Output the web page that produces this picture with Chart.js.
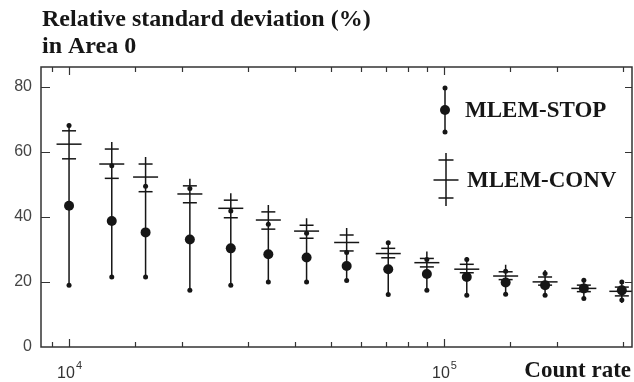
<!DOCTYPE html>
<html>
<head>
<meta charset="utf-8">
<script src="https://cdn.jsdelivr.net/npm/chart.js@4"></script>
<style>
html, body { margin: 0; padding: 0; background: #fff; overflow: hidden; }
#wrap { width: 634px; height: 382px; position: relative; }
canvas { display: block; }
</style>
</head>
<body>
<div id="wrap"><canvas id="myChart" width="634" height="382"></canvas></div>
<script>
// count rate (x) of each measurement
const countRate = [10000, 13000, 16000, 21000, 27000, 34000, 43000, 55000, 71000, 90000, 115000, 146000, 186000, 236000, 298000];
// MLEM-STOP : mean, min, max
const stopMean = [43.4, 38.7, 35.2, 33.0, 30.3, 28.5, 27.5, 24.9, 23.9, 22.4, 21.5, 19.8, 19.0, 18.0, 17.4];
const stopMin  = [19.0, 21.5, 21.5, 17.4, 19.0, 20.0, 20.0, 20.4, 16.1, 17.4, 15.9, 16.2, 15.9, 14.9, 14.4];
const stopMax  = [68.0, 55.7, 49.4, 48.7, 41.8, 37.7, 34.9, 29.0, 32.0, 26.9, 26.9, 23.3, 22.6, 20.5, 20.0];
// MLEM-CONV : mean, lower bar, upper bar
const convMean = [62.3, 56.2, 52.2, 47.0, 42.6, 39.0, 35.6, 32.1, 28.7, 25.9, 23.9, 21.8, 20.0, 18.0, 17.1];
const convLow  = [57.8, 51.8, 47.7, 44.3, 39.7, 36.2, 33.4, 29.5, 27.4, 24.6, 22.8, 20.7, 19.0, 17.0, 15.7];
const convHigh = [66.4, 60.8, 56.2, 49.5, 45.1, 41.5, 37.4, 34.4, 30.3, 27.2, 25.4, 23.1, 21.5, 19.0, 18.4];
const yTicks = [0, 20, 40, 60, 80];
const xDecades = [1e4, 1e5];

const INK = '#161616';
const SERIF = '"Liberation Serif", "Times New Roman", serif';
const SANS = '"Liberation Sans", Arial, sans-serif';

const pts = (ys) => countRate.map((x, i) => ({ x: x, y: ys[i] }));

// vertical whiskers, frame, inward ticks, texts
const decor = {
  id: 'decor',
  beforeDatasetsDraw(chart) {
    const { ctx, scales: { x, y } } = chart;
    ctx.save();
    ctx.strokeStyle = INK;
    ctx.lineWidth = 1.5;
    countRate.forEach((c, i) => {
      const px = x.getPixelForValue(c);
      ctx.beginPath();
      ctx.moveTo(px, y.getPixelForValue(stopMin[i]));
      ctx.lineTo(px, y.getPixelForValue(stopMax[i]));
      ctx.moveTo(px, y.getPixelForValue(convHigh[i]) - 7);
      ctx.lineTo(px, y.getPixelForValue(convLow[i]) + 7);
      ctx.stroke();
    });
    ctx.restore();
  },
  afterDraw(chart) {
    const { ctx, chartArea: a, scales: { x, y } } = chart;
    ctx.save();
    ctx.strokeStyle = '#333';
    ctx.lineWidth = 1.5;
    ctx.strokeRect(a.left, a.top, a.right - a.left, a.bottom - a.top);

    ctx.lineWidth = 1.2;
    ctx.beginPath();
    x.ticks.forEach(t => {
      const px = Math.round(x.getPixelForValue(t.value)) + 0.5;
      if (px < a.left + 2 || px > a.right - 2) return;
      const major = xDecades.includes(t.value);
      const len = major ? 8 : 5;
      ctx.moveTo(px, a.bottom); ctx.lineTo(px, a.bottom - len);
      ctx.moveTo(px, a.top); ctx.lineTo(px, a.top + len);
    });
    yTicks.forEach(v => {
      const py = Math.round(y.getPixelForValue(v)) + 0.5;
      if (v === 0) return;
      ctx.moveTo(a.left, py); ctx.lineTo(a.left + 9, py);
      ctx.moveTo(a.right, py); ctx.lineTo(a.right - 7, py);
    });
    ctx.stroke();

    // decade labels 10^n
    ctx.fillStyle = '#333';
    ctx.textBaseline = 'alphabetic';
    xDecades.forEach(v => {
      const px = x.getPixelForValue(v);
      ctx.font = '16px ' + SANS;
      const w1 = ctx.measureText('10').width;
      ctx.font = '11px ' + SANS;
      const exp = String(Math.round(Math.log10(v)));
      const w2 = ctx.measureText(exp).width;
      const sx = px - (w1 + w2) / 2;
      ctx.font = '16px ' + SANS;
      ctx.fillText('10', sx, 378);
      ctx.font = '11px ' + SANS;
      ctx.fillText(exp, sx + w1 + 1, 369);
    });

    // titles
    ctx.fillStyle = INK;
    ctx.font = 'bold 24px ' + SERIF;
    ctx.textAlign = 'left';
    ctx.fillText('Relative standard deviation (%)', 42, 26);
    ctx.fillText('in Area 0', 42, 53);
    ctx.font = 'bold 23px ' + SERIF;
    ctx.textAlign = 'right';
    ctx.fillText('Count rate', 631, 377);

    // legend
    const lx = a.right - 187;
    ctx.strokeStyle = INK;
    ctx.fillStyle = INK;
    ctx.lineWidth = 1.5;
    ctx.beginPath();
    ctx.moveTo(lx, 88); ctx.lineTo(lx, 132);
    ctx.moveTo(lx + 1, 153); ctx.lineTo(lx + 1, 206);
    ctx.moveTo(lx + 1 - 7.5, 160); ctx.lineTo(lx + 1 + 7.5, 160);
    ctx.moveTo(lx + 1 - 7.5, 198); ctx.lineTo(lx + 1 + 7.5, 198);
    ctx.moveTo(lx + 1 - 12.5, 180); ctx.lineTo(lx + 1 + 12.5, 180);
    ctx.stroke();
    [[88, 2.5], [132, 2.5], [110, 5]].forEach(([yy, r]) => {
      ctx.beginPath(); ctx.arc(lx, yy, r, 0, Math.PI * 2); ctx.fill();
    });
    ctx.textAlign = 'left';
    ctx.textBaseline = 'middle';
    ctx.font = 'bold 23px ' + SERIF;
    ctx.fillText('MLEM-STOP', lx + 20, 111);
    ctx.fillText('MLEM-CONV', lx + 22, 181);
    ctx.restore();
  }
};

let myChart;

const setup = () => {
  const ctxt = document.getElementById('myChart').getContext('2d');
  const dot = (label, ys, r) => ({
    label, data: pts(ys), pointStyle: 'circle', pointRadius: r,
    backgroundColor: INK, borderColor: INK, borderWidth: 0
  });
  const bar = (label, ys, r) => ({
    label, data: pts(ys), pointStyle: 'line', pointRadius: r,
    backgroundColor: INK, borderColor: INK, borderWidth: 1.5
  });

  myChart = new Chart(ctxt, {
    type: 'scatter',
    data: {
      datasets: [
        dot('MLEM-STOP', stopMean, 5),
        dot('MLEM-STOP min', stopMin, 2.5),
        dot('MLEM-STOP max', stopMax, 2.5),
        bar('MLEM-CONV', convMean, 12.5),
        bar('MLEM-CONV low', convLow, 7),
        bar('MLEM-CONV high', convHigh, 7)
      ]
    },
    options: {
      responsive: false,
      animation: false,
      devicePixelRatio: 1,
      layout: { autoPadding: false, padding: { top: 67, right: 2, left: 0, bottom: 0 } },
      plugins: { legend: { display: false }, tooltip: { enabled: false } },
      scales: {
        x: {
          type: 'logarithmic',
          min: 8418,
          max: 317200,
          grid: { display: false, drawTicks: false },
          border: { display: false },
          ticks: { display: false },
          afterFit: (s) => { s.height = 35; s.paddingLeft = 0; s.paddingRight = 0; }
        },
        y: {
          min: 0,
          max: 86,
          grid: { display: false, drawTicks: false },
          border: { display: false },
          afterBuildTicks: (s) => { s.ticks = yTicks.map(v => ({ value: v })); },
          ticks: {
            padding: 9,
            color: '#444',
            font: { family: SANS, size: 16 }
          },
          afterFit: (s) => { s.width = 41; s.paddingTop = 0; s.paddingBottom = 0; }
        }
      }
    },
    plugins: [decor]
  });
};

window.addEventListener('DOMContentLoaded', setup);
</script>
</body>
</html>
